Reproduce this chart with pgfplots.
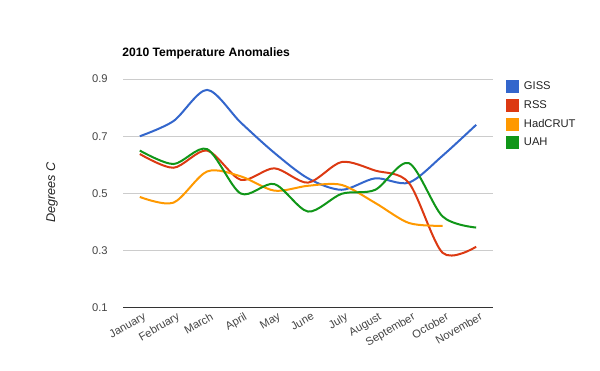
\documentclass[border=0pt]{standalone}
\usepackage{pgfplots}
\pgfplotsset{compat=1.18}
\usepackage{fontspec}
\setmainfont{Liberation Sans}
\definecolor{giss}{HTML}{3366CC}
\definecolor{rss}{HTML}{DC3912}
\definecolor{had}{HTML}{FF9900}
\definecolor{uah}{HTML}{109618}
\definecolor{gridc}{HTML}{CCCCCC}
\definecolor{axc}{HTML}{333333}
\definecolor{tickc}{HTML}{444444}
\definecolor{legc}{HTML}{222222}
\begin{document}
\begin{tikzpicture}
\useasboundingbox (0,0) rectangle (450pt,278.25pt);
\begin{axis}[
  at={(92.25pt,47.25pt)}, anchor=south west,
  scale only axis, width=277.5pt, height=171.75pt,
  xmin=-0.5, xmax=10.5, ymin=0.1, ymax=0.9,
  xtick={0,...,10},
  xticklabels={January,February,March,April,May,June,July,August,September,October,November},
  ytick={0.1,0.3,0.5,0.7,0.9},
  yticklabels={0.1,0.3,0.5,0.7,0.9},
  major tick length=0pt,
  axis x line*=bottom, axis y line*=left,
  y axis line style={draw=none},
  x axis line style={draw=axc, line width=0.75pt, -},
  ymajorgrids, grid style={draw=gridc, line width=0.75pt},
  tick label style={font=\fontsize{8.4pt}{9pt}\selectfont, text=tickc},
  xticklabel style={rotate=30, anchor=north east, xshift=1.5pt, yshift=-2.5pt, inner sep=1pt},
  yticklabel style={anchor=east, xshift=-8pt},
  legend style={draw=none, fill=none, at={(axis description cs:1,1)}, anchor=north west,
    xshift=9.75pt, yshift=0pt, inner sep=0pt, font=\fontsize{8.4pt}{9pt}\selectfont,
    text=legc, row sep=2.6pt, column sep=0pt, cells={anchor=west}},
  legend image code/.code={\fill (0pt,-4.125pt) rectangle (8.25pt,4.125pt);},
  every axis plot/.append style={line width=1.5pt, smooth, tension=0.5, mark=none},
]
\addplot[color=giss] coordinates {(0,0.70)(1,0.753)(2,0.862)(3,0.748)(4,0.642)(5,0.553)(6,0.513)(7,0.553)(8,0.538)(9,0.632)(10,0.740)};
\addlegendentry{\hspace{1.5pt}GISS}
\addplot[color=rss] coordinates {(0,0.638)(1,0.59)(2,0.65)(3,0.548)(4,0.588)(5,0.538)(6,0.61)(7,0.58)(8,0.537)(9,0.293)(10,0.314)};
\addlegendentry{\hspace{1.5pt}RSS}
\addplot[color=had] coordinates {(0,0.488)(1,0.468)(2,0.577)(3,0.56)(4,0.51)(5,0.527)(6,0.53)(7,0.467)(8,0.397)(9,0.387)};
\addlegendentry{\hspace{1.5pt}HadCRUT}
\addplot[color=uah] coordinates {(0,0.65)(1,0.603)(2,0.655)(3,0.50)(4,0.533)(5,0.437)(6,0.499)(7,0.513)(8,0.606)(9,0.42)(10,0.381)};
\addlegendentry{\hspace{1.5pt}UAH}
\end{axis}
\node[anchor=base west, inner sep=0pt, font=\fontsize{9.1pt}{10pt}\selectfont\bfseries, text=black] at (91.5pt,235.5pt) {2010 Temperature Anomalies};
\node[rotate=90, anchor=center, inner sep=0pt, font=\fontsize{9.5pt}{10pt}\selectfont\itshape, text=legc] at (39pt,134pt) {Degrees C};
\end{tikzpicture}
\end{document}
